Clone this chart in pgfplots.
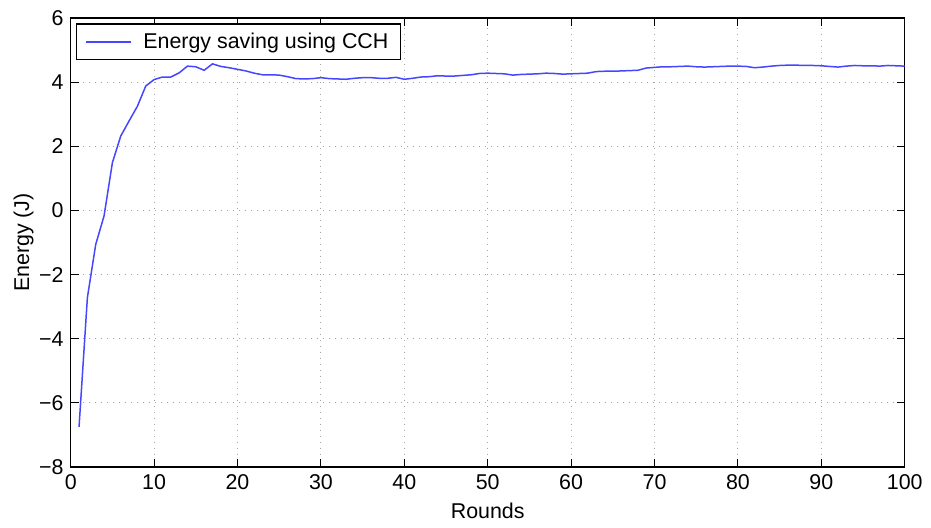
\documentclass[border=0pt]{standalone}
\usepackage{fontspec}
\setmainfont{Liberation Sans}
\usepackage{pgfplots}
\pgfplotsset{compat=1.18}
\definecolor{mblue}{RGB}{70,70,255}
\begin{document}
\begin{tikzpicture}
\useasboundingbox (-35.35pt,-30pt) rectangle (430.15pt,233.5pt);
\begin{axis}[
  at={(0,0)}, anchor=south west,
  scale only axis, width=417pt, height=224.5pt,
  xmin=0, xmax=100, ymin=-8, ymax=6,
  xtick={0,10,...,100},
  ytick={-8,-6,...,6},
  yticklabels={−8,−6,−4,−2,0,2,4,6},
  tick align=inside, major tick length=4pt,
  tick style={black, line width=0.5pt},
  axis line style={black, line width=0.6pt},
  grid=major,
  major grid style={gray!70, line width=0.5pt, dash pattern=on 0.6pt off 2.4pt},
  font=\fontsize{10.7}{12}\selectfont,
  /pgf/number format/assume math mode=true,
  xlabel={Rounds}, ylabel={Energy (J)},
  ylabel style={yshift=-4pt},
  legend style={at={(axis description cs:0,1)}, xshift=2.6pt, yshift=-2.65pt, anchor=north west,
    draw=black, line width=0.6pt, inner xsep=4.2pt, inner ysep=2.3pt, font=\fontsize{10.7}{12}\selectfont},
  legend cell align=left,
  legend image code/.code={\draw[#1, line width=0.75pt] (0pt,0pt) -- (22.5pt,0pt); \path (26.5pt,0pt);},
]
\addplot[mblue, line width=0.75pt] coordinates {
(1,-6.75) (2,-2.72) (3,-1.06) (4,-0.17) (5,1.49) (6,2.32) (7,2.79) (8,3.25) (9,3.88) (10,4.08)
(11,4.16) (12,4.16) (13,4.29) (14,4.50) (15,4.48) (16,4.37) (17,4.57) (18,4.49) (19,4.45) (20,4.40)
(21,4.35) (22,4.28) (23,4.23) (24,4.23) (25,4.22) (26,4.17) (27,4.11) (28,4.10) (29,4.11) (30,4.14)
(31,4.11) (32,4.10) (33,4.09) (34,4.12) (35,4.14) (36,4.14) (37,4.12) (38,4.12) (39,4.15) (40,4.09)
(41,4.12) (42,4.16) (43,4.17) (44,4.20) (45,4.19) (46,4.19) (47,4.21) (48,4.23) (49,4.27) (50,4.28)
(51,4.27) (52,4.26) (53,4.22) (54,4.24) (55,4.25) (56,4.26) (57,4.28) (58,4.27) (59,4.25) (60,4.26)
(61,4.27) (62,4.28) (63,4.33) (64,4.34) (65,4.34) (66,4.35) (67,4.36) (68,4.37) (69,4.44) (70,4.46)
(71,4.48) (72,4.48) (73,4.49) (74,4.50) (75,4.48) (76,4.47) (77,4.48) (78,4.49) (79,4.50) (80,4.50)
(81,4.49) (82,4.45) (83,4.47) (84,4.50) (85,4.52) (86,4.53) (87,4.53) (88,4.52) (89,4.52) (90,4.51)
(91,4.49) (92,4.47) (93,4.50) (94,4.52) (95,4.51) (96,4.51) (97,4.50) (98,4.52) (99,4.51) (100,4.50)
};
\addlegendentry{Energy saving using CCH}
\end{axis}
\end{tikzpicture}
\end{document}
